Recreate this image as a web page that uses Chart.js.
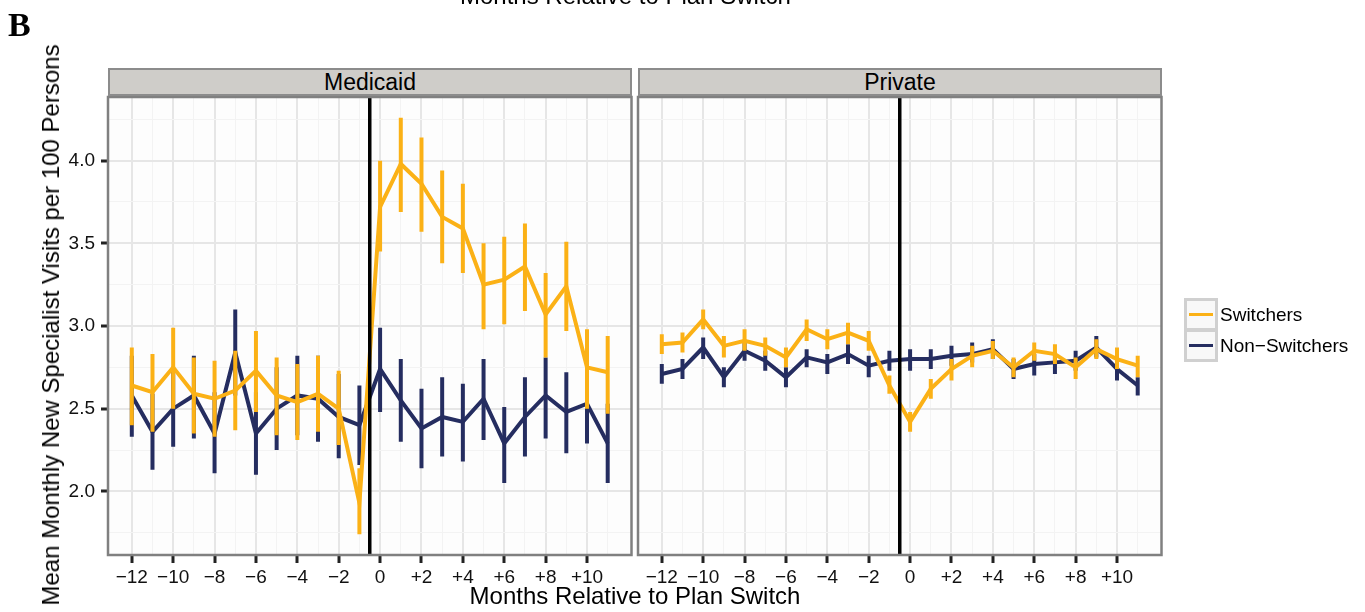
<!DOCTYPE html>
<html>
<head>
<meta charset="utf-8">
<script src="https://cdn.jsdelivr.net/npm/chart.js@4/dist/chart.umd.min.js"></script>
<style>
  body { margin: 0; background: #fff; font-family: "Liberation Sans", Arial, sans-serif; }
  #wrap { position: relative; width: 1365px; height: 612px; overflow: hidden; }
  canvas { position: absolute; top: 0; }
  .txt { position: absolute; white-space: nowrap; color: #000; }
  .strip { position: absolute; top: 68px; height: 28px; background: #cfcdc9; border: 2px solid #8c8c8c;
           box-sizing: border-box; font-size: 23px; text-align: center; line-height: 25px; }
  .key { position: absolute; left: 1184px; width: 34px; height: 33px; box-sizing: border-box;
         border: 3px solid #d0d0d0; background: #f8f8f8; }
  .key span { position: absolute; left: 2px; right: 2px; top: 12px; height: 3px; }
</style>
</head>
<body>
<div id="wrap">
  <canvas id="medicaid" width="634" height="612" style="left:0;width:634px;height:612px"></canvas>
  <canvas id="private" width="729" height="612" style="left:636px;width:729px;height:612px"></canvas>

  <div class="txt" style="left:8px;top:6px;font:bold 34px 'Liberation Serif',serif;">B</div>
  <div class="txt" style="left:460px;top:-18px;font-size:24px;">Months Relative to Plan Switch</div>

  <div class="strip" style="left:108px;width:524px;">Medicaid</div>
  <div class="strip" style="left:638px;width:524px;">Private</div>

  <div class="txt" style="left:51px;top:325px;font-size:24px;transform:translate(-50%,-50%) rotate(-90deg);">Mean Monthly New Specialist Visits per 100 Persons</div>
  <div class="txt" style="left:635px;top:596px;font-size:24px;transform:translate(-50%,-50%);">Months Relative to Plan Switch</div>

  <div class="key" style="top:298px;"><span style="background:#fbb116"></span></div>
  <div class="key" style="top:329px;"><span style="background:#252d60"></span></div>
  <div class="txt" style="left:1220px;top:304px;font-size:19px;">Switchers</div>
  <div class="txt" style="left:1220px;top:335px;font-size:19px;">Non−Switchers</div>
</div>

<script>
// DATA
const months = [-12, -11, -10, -9, -8, -7, -6, -5, -4, -3, -2, -1, 0, 1, 2, 3, 4, 5, 6, 7, 8, 9, 10, 11];
const xTickLabels = ["−12", "", "−10", "", "−8", "", "−6", "", "−4", "", "−2", "", "0", "", "+2", "", "+4", "", "+6", "", "+8", "", "+10", ""];
const yTickValues = [1.75, 2.0, 2.25, 2.5, 2.75, 3.0, 3.25, 3.5, 3.75, 4.0, 4.25];
const yTickLabels = ["", "2.0", "", "2.5", "", "3.0", "", "3.5", "", "4.0", ""];
const switchMonth = -0.5;

// Medicaid
const medSwitch   = [2.64, 2.60, 2.75, 2.59, 2.56, 2.61, 2.73, 2.58, 2.54, 2.59, 2.50, 1.93, 3.72, 3.98, 3.86, 3.66, 3.59, 3.25, 3.28, 3.36, 3.07, 3.24, 2.75, 2.72];
const medSwitchLo = [2.40, 2.36, 2.50, 2.35, 2.33, 2.37, 2.48, 2.34, 2.31, 2.36, 2.28, 1.74, 3.45, 3.69, 3.57, 3.38, 3.32, 2.98, 3.01, 3.09, 2.81, 2.97, 2.50, 2.47];
const medSwitchHi = [2.87, 2.83, 2.99, 2.81, 2.79, 2.85, 2.97, 2.81, 2.77, 2.82, 2.73, 2.14, 4.00, 4.26, 4.14, 3.94, 3.86, 3.50, 3.54, 3.62, 3.32, 3.51, 2.98, 2.94];
const medNon      = [2.58, 2.36, 2.50, 2.58, 2.35, 2.84, 2.35, 2.50, 2.58, 2.56, 2.45, 2.40, 2.74, 2.55, 2.38, 2.45, 2.42, 2.56, 2.29, 2.45, 2.58, 2.48, 2.53, 2.29];
const medNonLo    = [2.33, 2.13, 2.27, 2.32, 2.11, 2.58, 2.10, 2.25, 2.34, 2.30, 2.20, 2.16, 2.48, 2.30, 2.14, 2.21, 2.18, 2.31, 2.05, 2.21, 2.32, 2.23, 2.29, 2.05];
const medNonHi    = [2.82, 2.59, 2.74, 2.82, 2.60, 3.10, 2.60, 2.75, 2.82, 2.82, 2.71, 2.64, 2.99, 2.80, 2.62, 2.69, 2.65, 2.80, 2.51, 2.69, 2.81, 2.72, 2.78, 2.53];

// Private
const privSwitch   = [2.89, 2.90, 3.04, 2.88, 2.91, 2.88, 2.81, 2.98, 2.92, 2.96, 2.91, 2.64, 2.42, 2.62, 2.74, 2.82, 2.85, 2.75, 2.85, 2.83, 2.75, 2.86, 2.80, 2.76];
const privSwitchLo = [2.83, 2.84, 2.98, 2.81, 2.85, 2.82, 2.75, 2.91, 2.86, 2.89, 2.85, 2.59, 2.36, 2.56, 2.67, 2.75, 2.80, 2.69, 2.79, 2.77, 2.68, 2.80, 2.74, 2.69];
const privSwitchHi = [2.95, 2.96, 3.10, 2.94, 2.98, 2.93, 2.87, 3.04, 2.98, 3.02, 2.97, 2.70, 2.48, 2.68, 2.80, 2.88, 2.91, 2.81, 2.90, 2.89, 2.81, 2.92, 2.87, 2.82];
const privNon      = [2.71, 2.74, 2.87, 2.69, 2.85, 2.79, 2.69, 2.81, 2.78, 2.83, 2.76, 2.79, 2.80, 2.80, 2.82, 2.83, 2.86, 2.74, 2.77, 2.78, 2.79, 2.87, 2.74, 2.64];
const privNonLo    = [2.65, 2.68, 2.80, 2.63, 2.79, 2.73, 2.63, 2.75, 2.71, 2.77, 2.69, 2.73, 2.73, 2.74, 2.76, 2.78, 2.80, 2.68, 2.70, 2.71, 2.73, 2.81, 2.67, 2.58];
const privNonHi    = [2.77, 2.80, 2.93, 2.75, 2.91, 2.85, 2.75, 2.86, 2.83, 2.89, 2.82, 2.85, 2.86, 2.86, 2.88, 2.90, 2.92, 2.80, 2.83, 2.84, 2.85, 2.94, 2.80, 2.69];

// STYLE
const ORANGE = "#fbb116";
const NAVY = "#252d60";
const FONT = "'Liberation Sans', Arial, sans-serif";

// HELPERS
function points(vals) {
    return months.map((m, i) => ({ x: m, y: vals[i] }));
}

// each bar is a two-point segment, separated by a null gap
function bars(lo, hi) {
    const out = [];
    months.forEach((m, i) => {
        out.push({ x: m, y: lo[i] }, { x: m, y: hi[i] }, { x: m, y: null });
    });
    return out;
}

const panelPlugin = {
    id: "panel",
    beforeDraw(chart) {
        const a = chart.chartArea;
        const ctx = chart.ctx;
        ctx.save();
        ctx.fillStyle = "#fdfdfd";
        ctx.fillRect(a.left, a.top, a.right - a.left, a.bottom - a.top);
        ctx.restore();
    },
    afterDatasetsDraw(chart) {
        const a = chart.chartArea;
        const ctx = chart.ctx;
        const x = chart.scales.x.getPixelForValue(switchMonth);
        ctx.save();
        ctx.strokeStyle = "#000";
        ctx.lineWidth = 3.5;
        ctx.beginPath();
        ctx.moveTo(x, a.top);
        ctx.lineTo(x, a.bottom);
        ctx.stroke();
        ctx.strokeStyle = "#808080";
        ctx.lineWidth = 2.5;
        ctx.strokeRect(a.left, a.top, a.right - a.left, a.bottom - a.top);
        ctx.restore();
    }
};

function makeChart(id, sw, swLo, swHi, non, nonLo, nonHi, showY) {
    const lineStyle = { type: "line", pointRadius: 0, borderWidth: 4, tension: 0, borderJoinStyle: "miter" };
    const barStyle = { type: "line", pointRadius: 0, borderWidth: 4, borderCapStyle: "butt", spanGaps: false };

    return new Chart(document.getElementById(id), {
        type: "line",
        data: {
            datasets: [
                { ...lineStyle, label: "Switchers", data: points(sw), borderColor: ORANGE },
                { ...barStyle, label: "Switchers CI", data: bars(swLo, swHi), borderColor: ORANGE },
                { ...lineStyle, label: "Non-Switchers", data: points(non), borderColor: NAVY },
                { ...barStyle, label: "Non-Switchers CI", data: bars(nonLo, nonHi), borderColor: NAVY }
            ]
        },
        options: {
            responsive: false,
            animation: false,
            events: [],
            layout: { padding: showY ? { top: 97, right: 2.5, left: 0, bottom: 0 } : { top: 97, right: 203.5, left: 0, bottom: 0 } },
            plugins: { legend: { display: false }, tooltip: { enabled: false } },
            scales: {
                x: {
                    type: "linear",
                    min: -13.15,
                    max: 12.15,
                    afterBuildTicks: s => { s.ticks = months.map(v => ({ value: v })); },
                    afterFit: s => { s.height = 57; },
                    border: { display: false },
                    grid: {
                        color: c => (c.index % 2 === 0 ? "#e6e6e6" : "#f3f3f3"),
                        lineWidth: c => (c.index % 2 === 0 ? 2 : 1),
                        tickColor: c => (c.index % 2 === 0 ? "#222" : "rgba(0,0,0,0)"),
                        tickWidth: 3,
                        tickLength: 8
                    },
                    ticks: {
                        autoSkip: false,
                        maxRotation: 0,
                        padding: 3,
                        color: "#111",
                        font: { family: FONT, size: 19 },
                        callback: (v, i) => xTickLabels[i]
                    }
                },
                y: {
                    type: "linear",
                    min: 1.615,
                    max: 4.385,
                    afterBuildTicks: s => { s.ticks = yTickValues.map(v => ({ value: v })); },
                    afterFit: s => { s.width = showY ? 108 : 2; },
                    border: { display: false },
                    grid: {
                        color: c => (c.index % 2 === 1 ? "#e6e6e6" : "#f3f3f3"),
                        lineWidth: c => (c.index % 2 === 1 ? 2 : 1),
                        tickColor: c => (c.index % 2 === 1 ? "#222" : "rgba(0,0,0,0)"),
                        tickWidth: 3,
                        tickLength: 7,
                        drawTicks: showY
                    },
                    ticks: {
                        display: showY,
                        autoSkip: false,
                        padding: 6,
                        color: "#111",
                        font: { family: FONT, size: 19 },
                        callback: (v, i) => yTickLabels[i]
                    }
                }
            }
        },
        plugins: [panelPlugin]
    });
}

// RENDER
makeChart("medicaid", medSwitch, medSwitchLo, medSwitchHi, medNon, medNonLo, medNonHi, true);
makeChart("private", privSwitch, privSwitchLo, privSwitchHi, privNon, privNonLo, privNonHi, false);
</script>
</body>
</html>
